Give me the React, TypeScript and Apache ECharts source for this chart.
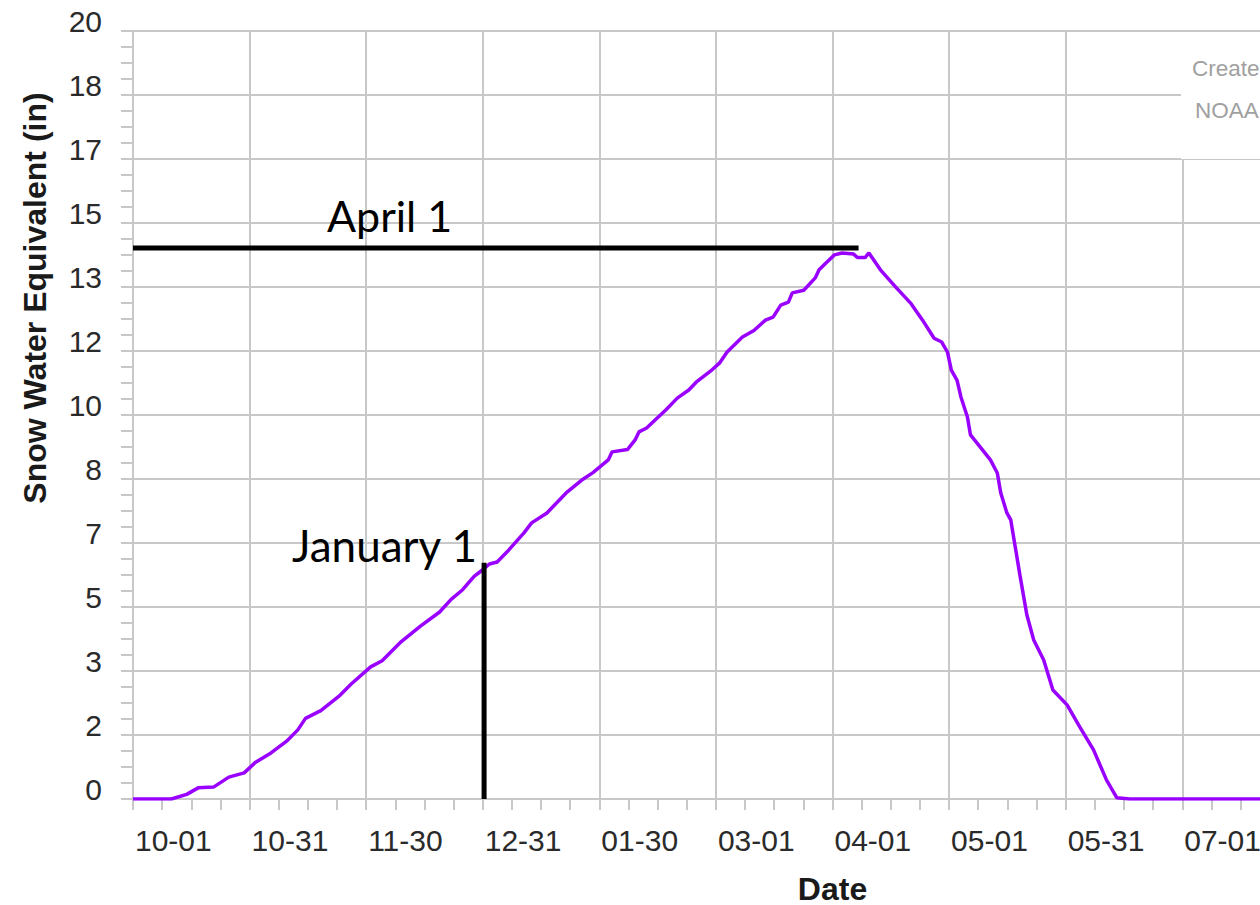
import React, { useEffect, useRef } from "react";
import * as echarts from "echarts";

// Tick labels (water year, 12 equal steps)
const xTickLabels = ["10-01", "10-31", "11-30", "12-31", "01-30", "03-01", "04-01", "05-01", "05-31", "07-01", "07-31", "08-31", "09-30"];
const yTickLabels = ["0", "2", "3", "5", "7", "8", "10", "12", "13", "15", "17", "18", "20"];

// Days since Oct 1 and snow water equivalent (in)
const days = [
  0, 10, 14, 17, 21, 25, 29, 32, 36, 40, 43, 45, 49, 54, 57, 62, 65, 70, 75, 80, 83, 86, 89, 91, 93,
  95, 98, 102, 104, 108, 113, 117, 120, 124, 125, 129, 131, 132, 134, 139, 142, 145, 147, 151, 153,
  155, 159, 162, 165, 167, 169, 171, 172, 175, 178, 179, 181, 183, 185, 188, 189, 191, 192, 195, 199,
  203, 206, 209, 211, 212.5, 213.5, 215, 216, 217.7, 218.5, 221, 223.7, 225.5, 226.4, 228, 229, 231.4,
  233.2, 235, 237.6, 240, 243.7, 247, 250.6, 254, 256.7, 260, 280, 300, 330, 365,
];
const swe = [
  0, 0, 0.12, 0.29, 0.31, 0.57, 0.68, 0.96, 1.2, 1.5, 1.8, 2.1, 2.3, 2.7, 3.0, 3.44, 3.6, 4.1, 4.5, 4.87, 5.2,
  5.45, 5.8, 5.95, 6.12, 6.17, 6.48, 6.93, 7.19, 7.45, 7.97, 8.3, 8.5, 8.83, 9.04, 9.1, 9.35, 9.56, 9.66,
  10.13, 10.44, 10.65, 10.86, 11.17, 11.35, 11.64, 12.03, 12.2, 12.47, 12.55, 12.86, 12.94, 13.18, 13.25,
  13.57, 13.78, 13.98, 14.17, 14.22, 14.19, 14.1, 14.1, 14.22, 13.78, 13.33, 12.9, 12.47, 12.0, 11.9,
  11.64, 11.17, 10.9, 10.47, 9.95, 9.48, 9.17, 8.83, 8.49, 7.97, 7.45, 7.27, 5.83, 4.8, 4.14, 3.62, 2.84,
  2.45, 1.88, 1.28, 0.49, 0.03, 0, 0, 0, 0, 0,
];

// Annotation guide lines
const aprilLine = [[0, 14.35], [189.3, 14.35]];
const januaryLine = [[91.6, 0], [91.6, 6.15]];
const aprilLabel = "April 1";
const januaryLabel = "January 1";

const STEP_X = 365 / 12;
const STEP_Y = 20 / 12;
const VISIBLE_X_LABELS = 10; // the picture is cropped after 07-01

export default function App() {
  const ref = useRef<HTMLDivElement>(null);

  useEffect(() => {
    document.body.style.margin = "0";
    document.body.style.overflow = "hidden";
    if (!ref.current) return;
    const chart = echarts.init(ref.current, null, { renderer: "svg" });
    const grid = "#c8c8c8";
    const axisFont = "Liberation Sans";
    chart.setOption({
      animation: false,
      backgroundColor: "#ffffff",
      grid: { left: 133, top: 31, width: 1399, height: 768, containLabel: false, outerBoundsMode: "none" },
      xAxis: {
        type: "value",
        min: 0,
        max: 365,
        interval: STEP_X,
        name: "Date",
        nameLocation: "middle",
        nameGap: 78,
        nameTextStyle: { fontFamily: axisFont, fontWeight: "bold", fontSize: 32, lineHeight: 24, color: "#1a1a1a" },
        axisLine: { show: true, lineStyle: { color: grid, width: 2 } },
        axisTick: { show: true, length: 11, lineStyle: { color: grid, width: 2 } },
        minorTick: { show: true, splitNumber: 4, length: 11, lineStyle: { color: grid, width: 2 } },
        splitLine: { show: true, lineStyle: { color: grid, width: 2 } },
        axisLabel: {
          fontFamily: axisFont,
          fontSize: 30,
          color: "#2a2a2a",
          align: "left",
          margin: 26,
          padding: [0, 0, 0, 2],
          formatter: (v: number) => {
            const i = Math.round(v / STEP_X);
            return i < VISIBLE_X_LABELS ? xTickLabels[i] : "";
          },
        },
      },
      yAxis: {
        type: "value",
        min: 0,
        max: 20,
        interval: STEP_Y,
        axisLine: { show: true, lineStyle: { color: grid, width: 2 } },
        axisTick: { show: true, length: 12, lineStyle: { color: grid, width: 2 } },
        minorTick: { show: true, splitNumber: 4, length: 12, lineStyle: { color: grid, width: 2 } },
        splitLine: { show: true, lineStyle: { color: grid, width: 2 } },
        axisLabel: {
          fontFamily: axisFont,
          fontSize: 30,
          color: "#2a2a2a",
          margin: 31,
          verticalAlign: "bottom",
          lineHeight: 20,
          formatter: (v: number) => yTickLabels[Math.round(v / STEP_Y)] ?? "",
        },
      },
      series: [
        {
          type: "line",
          data: days.map((d, i) => [d, swe[i]]),
          showSymbol: false,
          symbol: "none",
          lineStyle: { color: "#9900ff", width: 3.5 },
          z: 3,
        },
        {
          type: "line",
          data: aprilLine,
          symbol: "none",
          lineStyle: { color: "#000000", width: 5 },
          z: 4,
        },
        {
          type: "line",
          data: januaryLine,
          symbol: "none",
          lineStyle: { color: "#000000", width: 5 },
          z: 4,
        },
      ],
      graphic: [
        {
          type: "rect",
          shape: { x: 1181, y: 32, width: 400, height: 127 },
          style: { fill: "#ffffff" },
          z: 10,
        },
        {
          type: "text",
          x: 1192,
          y: 68,
          z: 11,
          style: { text: "Create", fontFamily: axisFont, fontSize: 22.5, fill: "#a0a0a0", textVerticalAlign: "middle" },
        },
        {
          type: "text",
          x: 1195,
          y: 110,
          z: 11,
          style: { text: "NOAA", fontFamily: axisFont, fontSize: 22.5, fill: "#a0a0a0", textVerticalAlign: "middle" },
        },
        {
          type: "text",
          x: 35,
          y: 298,
          rotation: Math.PI / 2,
          z: 11,
          style: {
            text: "Snow Water Equivalent (in)",
            fontFamily: axisFont,
            fontWeight: "bold",
            fontSize: 32,
            fill: "#1a1a1a",
            textAlign: "center",
            textVerticalAlign: "middle",
          },
        },
        {
          type: "text",
          x: 327,
          y: 215,
          z: 11,
          style: { text: aprilLabel, fontFamily: "Lato", fontSize: 43, fill: "#000000", textVerticalAlign: "middle" },
        },
        {
          type: "text",
          x: 292,
          y: 545,
          z: 11,
          style: { text: januaryLabel, fontFamily: "Lato", fontSize: 44, fill: "#000000", textVerticalAlign: "middle" },
        },
      ],
    });
    return () => chart.dispose();
  }, []);

  return (
    <div style={{ width: 1260, height: 905, overflow: "hidden", background: "#fff" }}>
      <div ref={ref} style={{ width: 1600, height: 905 }} />
    </div>
  );
}
